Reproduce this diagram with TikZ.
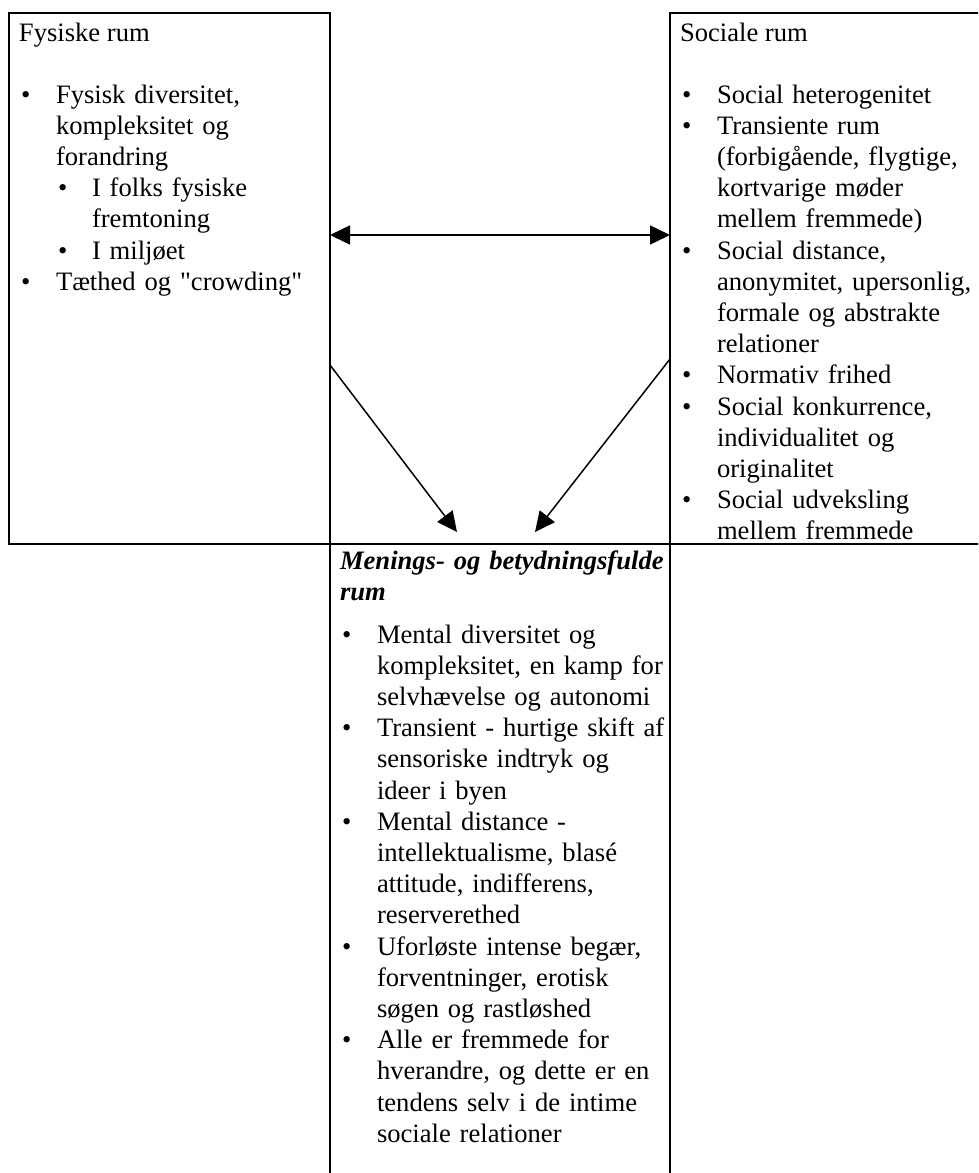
\documentclass[tikz,border=0pt]{standalone}
\usepackage{fontspec}
\setmainfont{Liberation Serif}[Ligatures=TeXOff]
\usetikzlibrary{arrows.meta}
\begin{document}
\begin{tikzpicture}[x=1pt,y=-1pt,
  every node/.style={font=\fontsize{26.6}{31.2}\selectfont},
  boxthick/.style={draw, line width=2.3pt, inner sep=0pt, outer sep=0pt},
  boxthin/.style={draw, line width=1.3pt, inner sep=0pt, outer sep=0pt},
  txt/.style={anchor=base west, inner sep=0pt, outer sep=0pt, align=left, text width=400pt},
  bul/.style={anchor=base west, inner sep=0pt, outer sep=0pt},
  arr/.style={line width=1.5pt, -{Triangle[length=20pt,width=19pt]}},
  dblarr/.style={line width=1.5pt, {Triangle[length=20pt,width=19pt]}-{Triangle[length=20pt,width=19pt]}},
]
\useasboundingbox (0,0) rectangle (978,1173);
\clip (0,0) rectangle (978,1173);
\fill[white] (0,0) rectangle (978,1173);

% boxes
\node[boxthin, minimum width=340pt, minimum height=660pt] (mening) at (500,874) {};
\node[boxthick, minimum width=321pt, minimum height=531pt] (fysisk) at (169.5,278.5) {};
\node[boxthick, minimum width=330pt, minimum height=531pt] (social) at (835,278.5) {};
\draw[line width=2.3pt] (fysisk.south east) -- (social.south west);

% left column
\node[bul] (fh) at (19,41) {Fysiske rum};
\node[bul] (fb1) at (21,103) {•};
\node[txt] (ft1) at (56,103) {Fysisk diversitet,\\kompleksitet og\\forandring};
\node[bul] (fb2) at (58,196.6) {•};
\node[txt] (ft2) at (92,196.6) {I folks fysiske\\fremtoning};
\node[bul] (fb3) at (58,259) {•};
\node[txt] (ft3) at (92,259) {I miljøet};
\node[bul] (fb4) at (21,290.2) {•};
\node[txt] (ft4) at (56,290.2) {Tæthed og "crowding"};

% right column
\node[bul] (sh) at (680,41) {Sociale rum};
\node[bul] (sb1) at (682,103) {•};
\node[txt] (st1) at (717,103) {Social heterogenitet};
\node[bul] (sb2) at (682,134.2) {•};
\node[txt] (st2) at (717,134.2) {Transiente rum\\(forbigående, flygtige,\\kortvarige møder\\mellem fremmede)};
\node[bul] (sb3) at (682,259) {•};
\node[txt] (st3) at (717,259) {Social distance,\\anonymitet, upersonlig,\\formale og abstrakte\\relationer};
\node[bul] (sb4) at (682,383.8) {•};
\node[txt] (st4) at (717,383.8) {Normativ frihed};
\node[bul] (sb5) at (682,415) {•};
\node[txt] (st5) at (717,415) {Social konkurrence,\\individualitet og\\originalitet};
\node[bul] (sb6) at (682,508.6) {•};
\node[txt] (st6) at (717,508.6) {Social udveksling\\mellem fremmede};

% middle column
\node[txt] (mh) at (340,569) {\bfseries\itshape Menings- og betydningsfulde\\rum};
\node[bul] (mb1) at (342,643) {•};
\node[txt] (mt1) at (377,643) {Mental diversitet og\\kompleksitet, en kamp for\\selvhævelse og autonomi};
\node[bul] (mb2) at (342,736.6) {•};
\node[txt] (mt2) at (377,736.6) {Transient - hurtige skift af\\sensoriske indtryk og\\ideer i byen};
\node[bul] (mb3) at (342,830.2) {•};
\node[txt] (mt3) at (377,830.2) {Mental distance -\\intellektualisme, blasé\\attitude, indifferens,\\reserverethed};
\node[bul] (mb4) at (342,955) {•};
\node[txt] (mt4) at (377,955) {Uforløste intense begær,\\forventninger, erotisk\\søgen og rastløshed};
\node[bul] (mb5) at (342,1048.6) {•};
\node[txt] (mt5) at (377,1048.6) {Alle er fremmede for\\hverandre, og dette er en\\tendens selv i de intime\\sociale relationer};

% arrows
\coordinate (hy) at (0,235);
\coordinate (ly) at (0,365);
\coordinate (ry) at (0,359);
\coordinate (tl) at (457,532);
\coordinate (tr) at (535,532);
\draw[dblarr] (fysisk.east |- hy) -- (social.west |- hy);
\draw[arr] (fysisk.east |- ly) -- (tl);
\draw[arr] (social.west |- ry) -- (tr);
\end{tikzpicture}
\end{document}
